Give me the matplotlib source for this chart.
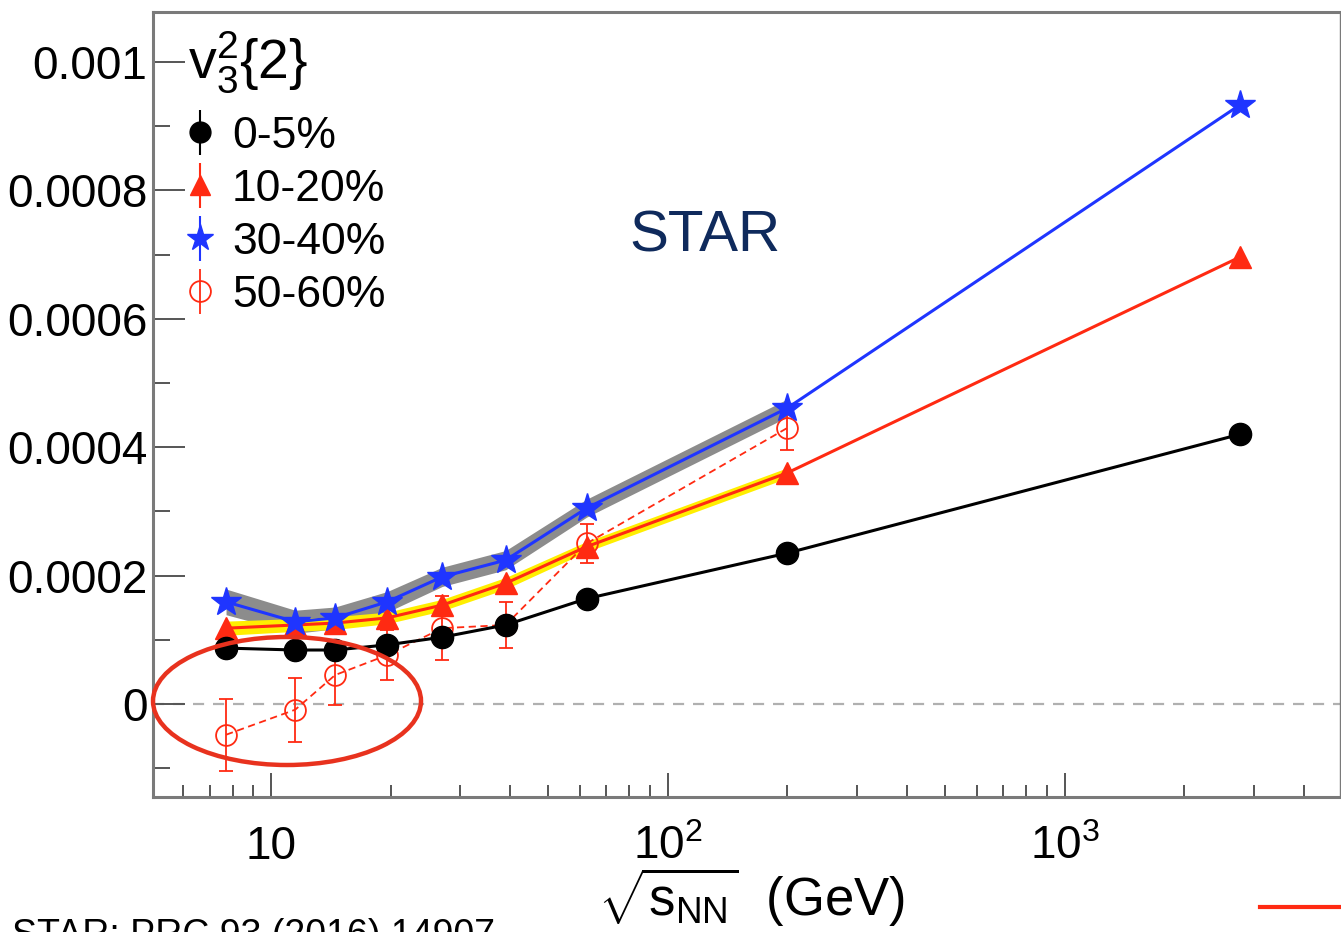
import numpy as np
import matplotlib
matplotlib.use("Agg")
import matplotlib.pyplot as plt
from matplotlib.ticker import FixedLocator, MultipleLocator, FuncFormatter
from matplotlib.patches import Ellipse
from matplotlib.lines import Line2D

plt.rcParams['font.family'] = ['Liberation Sans', 'DejaVu Sans']
plt.rcParams['mathtext.fontset'] = 'custom'
plt.rcParams['mathtext.rm'] = 'Liberation Sans'
plt.rcParams['mathtext.it'] = 'Liberation Sans:italic'

# beam energies (GeV)
energy = [7.7, 11.5, 14.5, 19.6, 27, 39, 62.4, 200, 2760]
energy_50 = [7.7, 11.5, 14.5, 19.6, 27, 39, 62.4, 200]

# v3^2{2} per centrality
v_0_5 = [8.7e-5, 8.4e-5, 8.4e-5, 9.2e-5, 1.04e-4, 1.23e-4, 1.64e-4, 2.35e-4, 4.2e-4]
v_10_20 = [1.18e-4, 1.23e-4, 1.26e-4, 1.34e-4, 1.54e-4, 1.88e-4, 2.45e-4, 3.6e-4, 6.96e-4]
v_30_40 = [1.59e-4, 1.28e-4, 1.34e-4, 1.59e-4, 1.98e-4, 2.24e-4, 3.05e-4, 4.61e-4, 9.33e-4]
v_50_60 = [-4.8e-5, -0.9e-5, 4.5e-5, 7.6e-5, 1.18e-4, 1.23e-4, 2.5e-4, 4.3e-4]
err_50_60 = [5.6e-5, 5.0e-5, 4.7e-5, 3.9e-5, 5.0e-5, 3.6e-5, 3.1e-5, 3.4e-5]

# systematic bands (BES + 200 GeV only)
sys_30_40 = [2.0e-5, 1.8e-5, 1.7e-5, 1.6e-5, 1.5e-5, 1.5e-5, 1.4e-5, 1.4e-5]
sys_10_20 = [1.1e-5, 1.0e-5, 1.0e-5, 0.9e-5, 0.9e-5, 0.9e-5, 0.8e-5, 0.8e-5]

labels = ['0-5%', '10-20%', '30-40%', '50-60%']

blue = '#1f35ff'
red = '#ff2a12'
gray_axis = '#7a7a7a'

fig = plt.figure(figsize=(13.41, 9.32), dpi=100)
ax = fig.add_axes([153/1341, 1 - 797/932, (1340 - 153)/1341, (797 - 12)/932])
ax.set_xscale('log')
ax.set_xlim(5.04, 4940)
ax.set_ylim(-0.000145, 0.001078)

ax.axhline(0, color='#b0b0b0', lw=1.6, ls=(0, (5, 4)), zorder=1)

n = len(energy_50)
v30 = np.array(v_30_40[:n])
v10 = np.array(v_10_20[:n])
ax.fill_between(energy_50, v30 - np.array(sys_30_40), v30 + np.array(sys_30_40),
                color='#8c8c8c', lw=0, zorder=2)
ax.fill_between(energy_50, v10 - np.array(sys_10_20), v10 + np.array(sys_10_20),
                color='#ffee00', lw=0, zorder=2)

ax.plot(energy, v_0_5, color='black', lw=2.2, marker='o', ms=16, zorder=5)
ax.plot(energy, v_10_20, color=red, lw=2.2, marker='^', ms=16, zorder=4)
ax.plot(energy, v_30_40, color=blue, lw=2.2, marker='*', ms=22, zorder=4)
ax.errorbar(energy_50, v_50_60, yerr=err_50_60, color=red, lw=1.3, ls=(0, (4, 2.5)),
            marker='o', ms=15, mfc='none', mew=1.3, elinewidth=1.3, capsize=5,
            capthick=1.3, zorder=3)

# legend proxies with vertical error bars
h0 = ax.errorbar([np.nan], [np.nan], yerr=[1], fmt='o', color='black', ms=15, elinewidth=1.5)
h1 = ax.errorbar([np.nan], [np.nan], yerr=[1], fmt='^', color=red, ms=15, elinewidth=1.5)
h2 = ax.errorbar([np.nan], [np.nan], yerr=[1], fmt='*', color=blue, ms=20, elinewidth=1.5)
h3 = ax.errorbar([np.nan], [np.nan], yerr=[1], fmt='o', color=red, ms=15, mfc='none',
                 mew=1.3, elinewidth=1.3)
leg = ax.legend([h0, h1, h2, h3], labels, loc='upper left',
                bbox_to_anchor=(183/1341, 1 - 116/932), bbox_transform=fig.transFigure,
                frameon=False, fontsize=32, handlelength=0.75,
                handletextpad=0.35, labelspacing=0.27, borderpad=0, borderaxespad=0)
fig.text(188/1341, 1 - 62/932, r'$\mathrm{v}_3^2\{2\}$', fontsize=40,
         ha='left', va='center')

fig.text(705/1341, 1 - 237/932, 'STAR', color='#0f2a5c', fontsize=42,
         ha='center', va='center')

# axes styling
for side in ['left', 'bottom', 'top', 'right']:
    ax.spines[side].set_color(gray_axis)
ax.spines['left'].set_linewidth(2.2)
ax.spines['bottom'].set_linewidth(2.2)
ax.spines['top'].set_linewidth(2.2)
ax.spines['right'].set_linewidth(1.0)

ax.xaxis.set_major_locator(FixedLocator([10, 100, 1000]))
ax.xaxis.set_minor_locator(FixedLocator([6, 7, 8, 9, 20, 30, 40, 50, 60, 70, 80, 90,
                                         200, 300, 400, 500, 600, 700, 800, 900,
                                         2000, 3000, 4000]))
ax.set_xticklabels(['10', r'$10^2$', r'$10^3$'])
ax.xaxis.set_minor_formatter(FuncFormatter(lambda v, p: ''))
ax.yaxis.set_major_locator(MultipleLocator(0.0002))
ax.yaxis.set_minor_locator(MultipleLocator(0.0001))
ax.yaxis.set_major_formatter(FuncFormatter(lambda v, p: '0' if abs(v) < 1e-12 else f'{v:.4f}'.rstrip('0')))

ax.tick_params(axis='both', which='both', direction='in', color='#555555', width=1.4,
               top=False, right=False, labelsize=33)
ax.tick_params(axis='x', which='major', length=17, pad=20)
ax.tick_params(axis='x', which='minor', length=9)
ax.tick_params(axis='y', which='major', length=23, pad=4)
ax.tick_params(axis='y', which='minor', length=12)

fig.text(752/1341, 1 - 897/932, r'$\sqrt{\mathrm{s}_{\mathrm{NN}}}$  (GeV)', fontsize=38,
         ha='center', va='center')

# highlight around the low-energy 50-60% points
ell = Ellipse((287/1341, 1 - 701/932), 268/1341, 128/932, transform=fig.transFigure,
              fill=False, edgecolor='#e8321e', lw=3.2, zorder=10)
fig.add_artist(ell)

fig.text(12/1341, -14/932, 'STAR: PRC 93 (2016) 14907', fontsize=27, ha='left',
         va='baseline')
fig.add_artist(Line2D([1260/1341, 1.0], [1 - 907/932, 1 - 907/932],
                      transform=fig.transFigure, color=red, lw=3))

fig.savefig('out.png', dpi=100)
